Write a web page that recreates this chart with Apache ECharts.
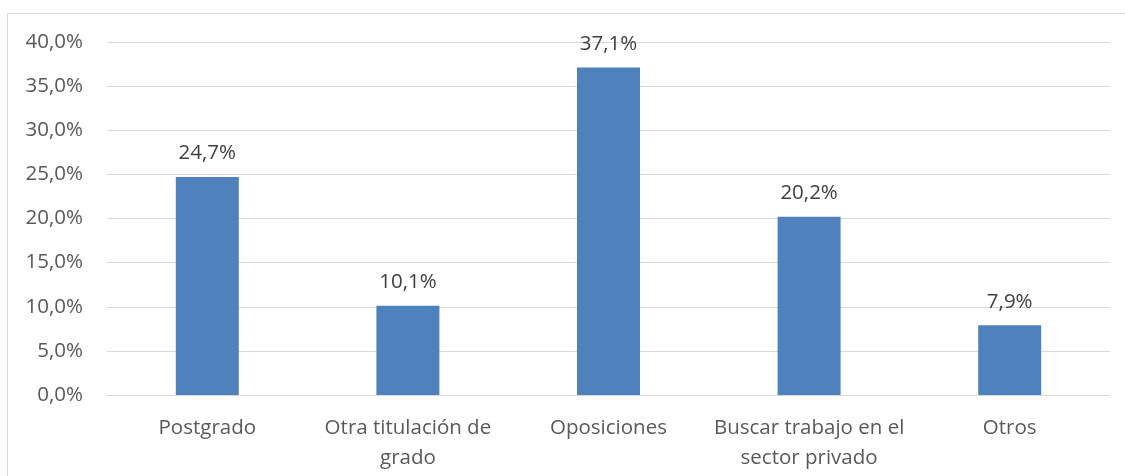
<!DOCTYPE html>
<html>
<head>
<meta charset="utf-8">
<script src="https://cdn.jsdelivr.net/npm/echarts@6/dist/echarts.min.js"></script>
<style>
  html, body { margin: 0; padding: 0; background: #ffffff; }
  #chart { width: 1125px; height: 476px; }
</style>
</head>
<body>
<div id="chart"></div>
<script>
// Destino tras finalizar los estudios (porcentaje de respuestas)
const categories = ['Postgrado', 'Otra titulación de\ngrado', 'Oposiciones', 'Buscar trabajo en el\nsector privado', 'Otros'];
const values = [24.7, 10.1, 37.1, 20.2, 7.9];
const yTicks = { min: 0, max: 40, interval: 5 };

const fmt = v => v.toFixed(1).replace('.', ',') + '%';
const FONT = '"Open Sans", "Liberation Sans", sans-serif';

const chart = echarts.init(document.getElementById('chart'), null, { renderer: 'canvas' });
chart.setOption({
  animation: false,
  backgroundColor: '#ffffff',
  graphic: [{
    type: 'rect',
    shape: { x: 7.5, y: 13.5, width: 1130, height: 480 },
    style: { fill: 'none', stroke: '#d9d9d9', lineWidth: 1 },
    silent: true
  }],
  grid: { left: 107, right: 15, top: 42, bottom: 81 },
  xAxis: {
    type: 'category',
    data: categories,
    axisTick: { show: false },
    axisLine: { show: true, lineStyle: { color: '#d9d9d9', width: 1 } },
    axisLabel: {
      color: '#595959', fontFamily: FONT, fontSize: 20.5, lineHeight: 30,
      margin: 18, interval: 0
    }
  },
  yAxis: {
    type: 'value',
    min: yTicks.min, max: yTicks.max, interval: yTicks.interval,
    axisLine: { show: false },
    axisTick: { show: false },
    splitLine: { lineStyle: { color: '#d9d9d9', width: 1 } },
    axisLabel: {
      color: '#595959', fontFamily: FONT, fontSize: 20.5, margin: 24,
      formatter: v => fmt(v)
    }
  },
  series: [{
    type: 'bar',
    data: values,
    barWidth: 63,
    itemStyle: { color: '#4f81bd' },
    label: {
      show: true, position: 'top', distance: 13,
      color: '#404040', fontFamily: FONT, fontSize: 20.5,
      formatter: p => fmt(p.value)
    }
  }]
});
</script>
</body>
</html>
